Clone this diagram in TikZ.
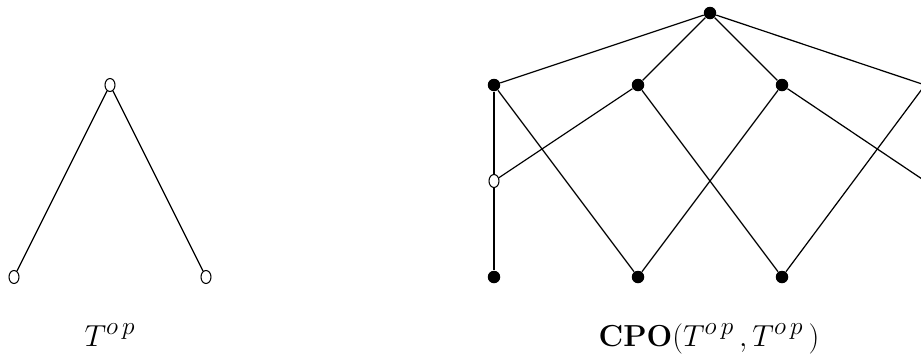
\documentclass[tikz,border=0pt]{standalone}
\usepackage{tikz}
\usetikzlibrary{positioning, shapes.geometric}

\begin{document}
\begin{tikzpicture}[
    x=0.02cm, y=-0.02cm,
    font=\fontsize{19}{22}\selectfont,
    full/.style={circle, fill=black, inner sep=0pt, minimum size=0.25cm},
    open/.style={ellipse, draw=black, line width=0.6pt, fill=white, inner sep=0pt, minimum width=0.2cm, minimum height=0.26cm},
    edge/.style={line width=0.7pt},
    thick edge/.style={line width=1.5pt},
  ]
    \clip (0,0) rectangle (921,356);

    % T^op
    \node[open] (t) at (110,85) {};
    \node[open] (a) at (14,277) {};
    \node[open] (b) at (206,277) {};
    \draw[edge] (t) -- (a);
    \draw[edge] (t) -- (b);
    \node[anchor=base] (lt) at (110,346) {$T^{o\,p}$};

    % CPO(T^op, T^op)
    \node[full] (top) at (710,13) {};
    \node[full] (m1) at (494,85) {};
    \node[full] (m2) at (638,85) {};
    \node[full] (m3) at (782,85) {};
    \coordinate (m4) at (925,85);
    \node[open] (o1) at (494,181) {};
    \coordinate (o4) at (925,181);
    \node[full] (b1) at (494,277) {};
    \node[full] (b2) at (638,277) {};
    \node[full] (b3) at (782,277) {};

    \draw[edge] (top) -- (m1);
    \draw[edge] (top) -- (m2);
    \draw[edge] (top) -- (m3);
    \draw[edge] (top) -- (m4);
    \draw[thick edge] (m1) -- (o1);
    \draw[thick edge] (o1) -- (b1);
    \draw[edge] (m1) -- (b2);
    \draw[edge] (o1) -- (m2);
    \draw[edge] (m2) -- (b3);
    \draw[edge] (b2) -- (m3);
    \draw[edge] (m3) -- (o4);
    \draw[edge] (b3) -- (m4);
    \node[anchor=base] (lc) at (709,346) {$\mathbf{CPO}(T^{o\,p}\,,T^{o\,p}\,)$};
\end{tikzpicture}
\end{document}
